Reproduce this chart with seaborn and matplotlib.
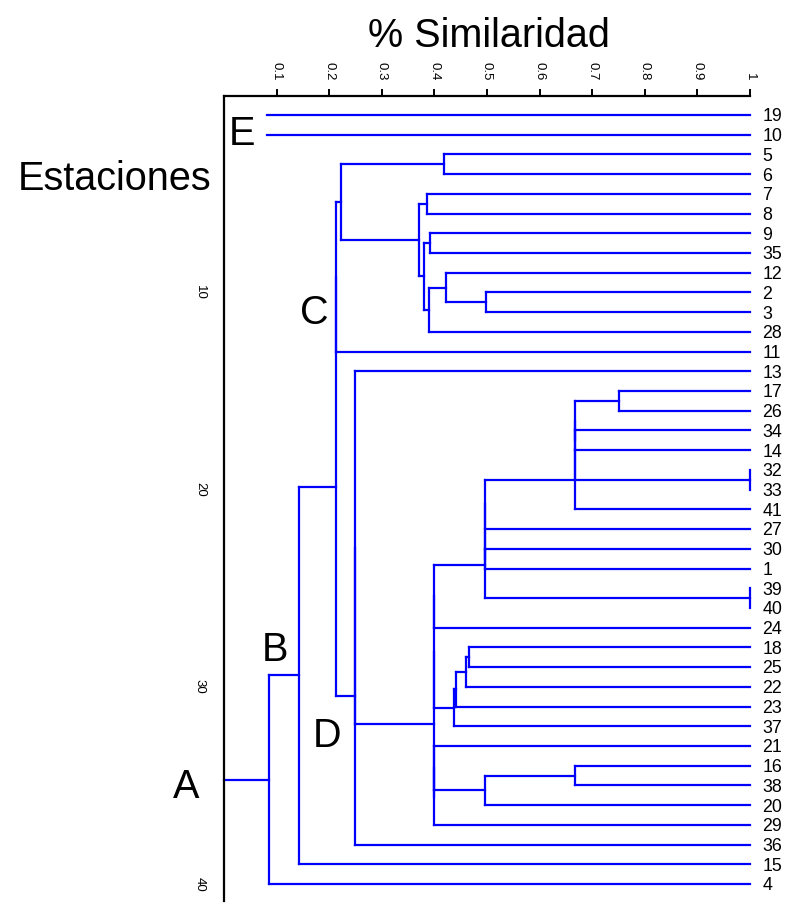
import matplotlib
matplotlib.use("Agg")
import matplotlib.pyplot as plt
import pandas as pd
import seaborn as sns

# Stations in dendrogram order (top to bottom)
leaf_order = ["19", "10", "5", "6", "7", "8", "9", "35", "12", "2", "3", "28",
              "11", "13", "17", "26", "34", "14", "32", "33", "41", "27", "30",
              "1", "39", "40", "24", "18", "25", "22", "23", "37", "21", "16",
              "38", "20", "29", "36", "15", "4"]

# Stations without any link to the rest (group E) and where their lines start
unlinked = ["19", "10"]
unlinked_start = 0.081

# Agglomeration steps: new node, the two joined members, similarity of the join
node_name = ["c5_6", "c7_8", "c9_35", "c2_3", "c12_3", "c12_28", "c9_28", "c7_28",
             "c5_28", "c5_11", "c17_26", "c34_14", "c17_14", "c32_33", "c17_33",
             "c17_41", "c17_27", "c30_1", "c17_1", "c39_40", "c17_40", "c17_24",
             "c18_25", "c18_22", "c18_23", "c18_37", "c17_37", "c16_38", "c16_20",
             "c21_20", "c21_29", "c17_29", "c13_29", "c13_36", "c5_36", "c5_15",
             "c5_4"]
child_a = ["5", "7", "9", "2", "12", "c12_3", "c9_35", "c7_8",
           "c5_6", "c5_28", "17", "34", "c17_26", "32", "c17_14",
           "c17_33", "c17_41", "30", "c17_27", "39", "c17_1", "c17_40",
           "18", "c18_25", "c18_22", "c18_23", "c17_24", "16", "c16_38",
           "21", "c21_20", "c17_37", "13", "c13_29", "c5_11", "c5_36",
           "c5_15"]
child_b = ["6", "8", "35", "3", "c2_3", "28", "c12_28", "c9_28",
           "c7_28", "11", "26", "14", "c34_14", "33", "c32_33",
           "41", "27", "1", "c30_1", "40", "c39_40", "24",
           "25", "22", "23", "37", "c18_37", "38", "20",
           "c16_20", "29", "c21_29", "c17_29", "36", "c13_36", "15",
           "4"]
similarity = [0.419, 0.385, 0.392, 0.499, 0.423, 0.390, 0.381, 0.371,
              0.223, 0.212, 0.751, 0.667, 0.667, 1.000, 0.667,
              0.667, 0.497, 0.497, 0.497, 1.000, 0.497, 0.400,
              0.466, 0.461, 0.442, 0.437, 0.400, 0.667, 0.497,
              0.400, 0.400, 0.400, 0.249, 0.249, 0.212, 0.142,
              0.086]

cluster_letters = ["A", "B", "C", "D", "E"]
tick_sim = [0.1, 0.2, 0.3, 0.4, 0.5, 0.6, 0.7, 0.8, 0.9, 1.0]
tick_sim_labels = ["0.1", "0.2", "0.3", "0.4", "0.5", "0.6", "0.7", "0.8", "0.9", "1"]
tick_station = [10, 20, 30, 40]

# ---- build the dendrogram segments -------------------------------------
pos = {leaf: i + 1 for i, leaf in enumerate(leaf_order)}
height = {leaf: 1.0 for leaf in leaf_order}
rows = []
seg = 0


def add_segment(x0, y0, x1, y1):
    global seg
    if x0 == x1 and y0 == y1:
        return
    rows.append({"x": x0, "y": y0, "seg": seg})
    rows.append({"x": x1, "y": y1, "seg": seg})
    seg += 1


for name, a, b, s in zip(node_name, child_a, child_b, similarity):
    add_segment(s, pos[a], s, pos[b])
    add_segment(s, pos[a], height[a], pos[a])
    add_segment(s, pos[b], height[b], pos[b])
    pos[name] = (pos[a] + pos[b]) / 2
    height[name] = s

root = node_name[-1]
add_segment(0.0, pos[root], height[root], pos[root])
for leaf in unlinked:
    add_segment(unlinked_start, pos[leaf], 1.0, pos[leaf])

segments = pd.DataFrame(rows)

# ---- figure --------------------------------------------------------------
sns.set_style("white")
plt.rcParams["font.family"] = ["Liberation Sans", "DejaVu Sans"]
plt.rcParams["text.color"] = "black"
plt.rcParams["axes.labelcolor"] = "black"
plt.rcParams["xtick.color"] = "black"
plt.rcParams["ytick.color"] = "black"

W, H = 799, 910
fig = plt.figure(figsize=(W / 100, H / 100), dpi=100)
ax_left, ax_right, ax_top, ax_bottom = 224, 750, 96, 901
ax = fig.add_axes([ax_left / W, 1 - ax_bottom / H,
                   (ax_right - ax_left) / W, (ax_bottom - ax_top) / H])

sns.lineplot(data=segments, x="x", y="y", units="seg", estimator=None,
             sort=False, color="#0000ff", linewidth=1.6, ax=ax)
for ln in ax.lines:
    ln.set_clip_on(False)
    ln.set_solid_capstyle("projecting")

ax.set_xlim(0, 1)
ax.set_ylim(40.862, 0.0365)
ax.set_xlabel("")
ax.set_ylabel("")

for side in ["right", "bottom"]:
    ax.spines[side].set_visible(False)
for side in ["left", "top"]:
    ax.spines[side].set_color("black")
    ax.spines[side].set_linewidth(1.6)

ax.xaxis.tick_top()
ax.set_xticks(tick_sim)
ax.set_xticklabels(tick_sim_labels, rotation=-90, fontsize=9.5)
ax.set_yticks(tick_station)
ax.set_yticklabels([str(t) for t in tick_station], rotation=-90, fontsize=9.5,
                   va="center")
ax.tick_params(axis="x", direction="out", length=5, width=1.4, pad=6,
               colors="black")
ax.tick_params(axis="y", direction="out", length=5, width=1.4, pad=8,
               colors="black")

# station labels at the leaf ends
for leaf in leaf_order:
    ax.annotate(leaf, xy=(1.0, pos[leaf]), xytext=(9.0, -4.6),
                textcoords="offset points", fontsize=12.8, va="baseline",
                ha="left", color="black", annotation_clip=False)

# group letters
big = 28.5
letter_xy = {"A": (-0.0722, 35.63), "B": (0.097, 28.67), "C": (0.172, 11.62),
             "D": (0.1958, 33.03), "E": (0.0342, 2.52)}
for letter in cluster_letters:
    x, y = letter_xy[letter]
    ax.text(x, y, letter, fontsize=big, ha="center", va="baseline",
            color="black", clip_on=False)

fig.text(489 / W, 1 - 46.7 / H, "% Similaridad", fontsize=big,
         ha="center", va="baseline", color="black")
fig.text(18 / W, 1 - 190 / H, "Estaciones", fontsize=big,
         ha="left", va="baseline", color="black")

fig.savefig("out.png", dpi=100)
